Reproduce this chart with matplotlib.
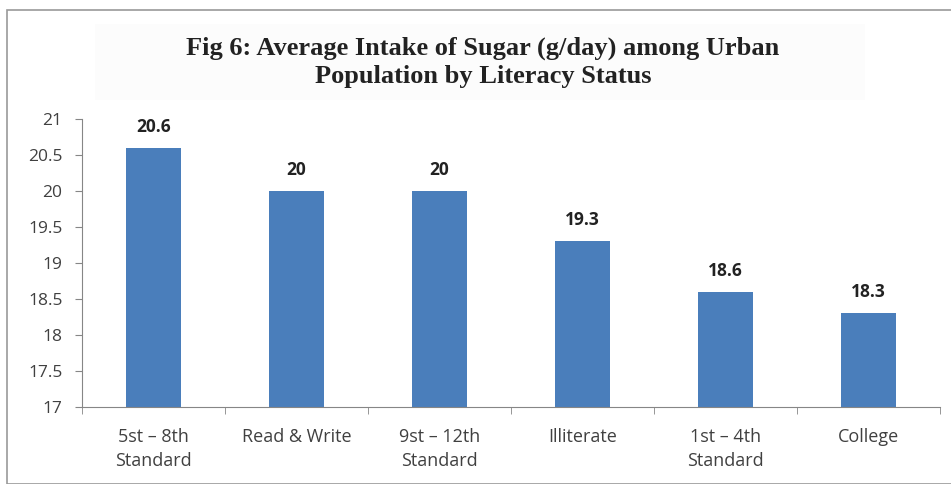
import numpy as np
import matplotlib.pyplot as plt
from matplotlib.patches import Rectangle

categories = ["5st \u2013 8th\nStandard", "Read & Write", "9st \u2013 12th\nStandard",
              "Illiterate", "1st \u2013 4th\nStandard", "College"]
values = [20.6, 20, 20, 19.3, 18.6, 18.3]
yticks = [17, 17.5, 18, 18.5, 19, 19.5, 20, 20.5, 21]

fig = plt.figure(figsize=(9.51, 4.84), dpi=100)
W, H = 951, 484

# outer frame and faint title background
fig.patches.append(Rectangle((7 / W, 0), 1, 1 - 10 / H, transform=fig.transFigure,
                             fill=False, edgecolor="#9a9a9a", linewidth=1.2))
fig.patches.append(Rectangle((95 / W, 1 - 100 / H), 770 / W, 76 / H, transform=fig.transFigure,
                             facecolor="#fcfcfc", edgecolor="none"))

fig.text(483 / W, 1 - 55 / H, "Fig 6: Average Intake of Sugar (g/day) among Urban",
         ha="center", va="baseline", family="Liberation Serif", fontweight="bold",
         fontsize=19, color="#222222")
fig.text(483 / W, 1 - 83 / H, "Population by Literacy Status",
         ha="center", va="baseline", family="Liberation Serif", fontweight="bold",
         fontsize=19, color="#222222")

ax = fig.add_axes([82 / W, 1 - 407 / H, (940 - 82) / W, (407 - 119) / H])
x = np.arange(len(categories))
ax.bar(x, values, width=0.39, color="#4a7ebb", bottom=0)
ax.set_xlim(-0.5, len(categories) - 0.5)
ax.set_ylim(17, 21)
ax.set_yticks(yticks)
ax.set_yticklabels([f"{v:g}" for v in yticks], family="Open Sans", fontsize=12.5, color="#404040")
ax.set_xticks(x)
ax.set_xticklabels(categories, family="Open Sans", fontsize=13, color="#404040", linespacing=1.45)
ax.tick_params(axis="x", length=0, pad=15)
ax.set_xticks(np.arange(len(categories) + 1) - 0.5, minor=True)
ax.tick_params(axis="x", which="minor", length=5, color="#868686")
ax.tick_params(axis="y", length=5, color="#868686", pad=9)

for s in ["top", "right"]:
    ax.spines[s].set_visible(False)
for s in ["left", "bottom"]:
    ax.spines[s].set_color("#868686")

for xi, v in zip(x, values):
    ax.text(xi, v + 0.17, f"{v:g}", ha="center", va="bottom", family="Open Sans",
            fontweight="bold", fontsize=12.5, color="#222222")

fig.savefig("out.png", dpi=100)
